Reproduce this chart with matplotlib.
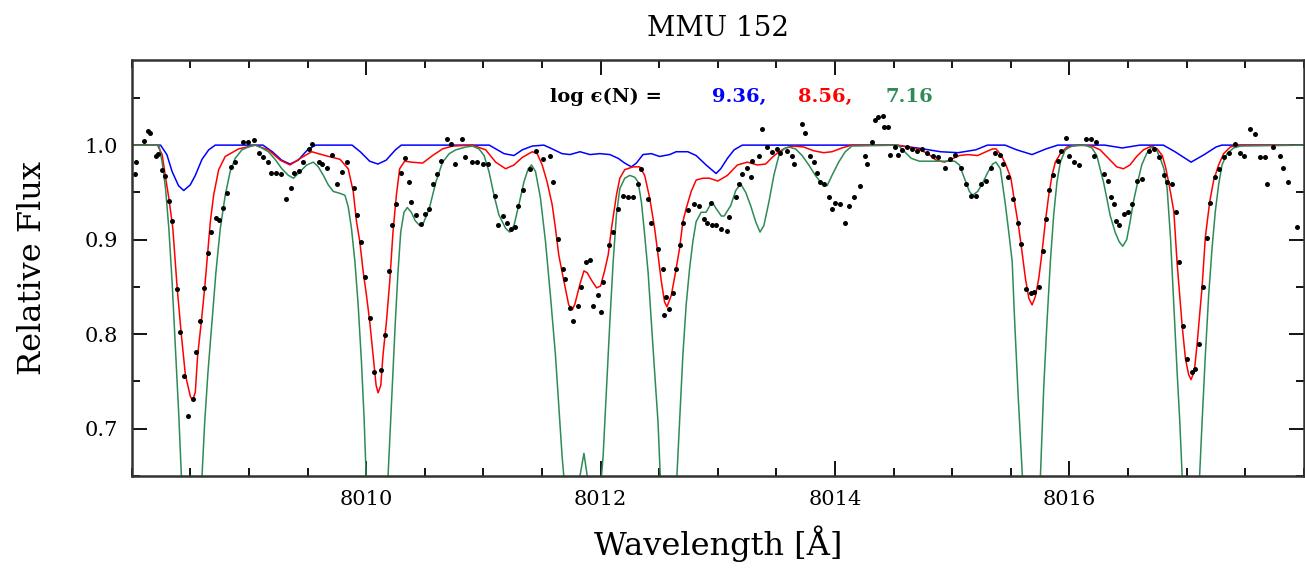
import numpy as np
import matplotlib
matplotlib.use("Agg")
import matplotlib.pyplot as plt
from matplotlib.ticker import MultipleLocator, FixedLocator

# model spectra (wavelength in Angstrom, relative flux)
blue_wave = [8008.0, 8008.246, 8008.30, 8008.345, 8008.40, 8008.444, 8008.50, 8008.543, 8008.60, 8008.657,
             8008.713, 8009.12, 8009.20, 8009.28, 8009.351, 8009.42, 8009.50, 8009.57, 8009.88, 8009.95,
             8010.03, 8010.10, 8010.17, 8010.25, 8010.30, 8011.05, 8011.176, 8011.261, 8011.332, 8011.417,
             8011.516, 8011.587, 8011.671, 8011.739, 8011.824, 8011.909, 8011.994, 8012.079, 8012.15, 8012.206,
             8012.263, 8012.305, 8012.362, 8012.433, 8012.504, 8012.589, 8012.645, 8012.744, 8012.815, 8012.90,
             8012.985, 8013.025, 8013.082, 8013.139, 8013.209, 8014.50, 8014.70, 8014.90, 8015.05, 8015.20,
             8015.30, 8015.45, 8015.55, 8015.68, 8015.80, 8015.90, 8016.30, 8016.45, 8016.60, 8016.80,
             8016.90, 8017.037, 8017.15, 8017.25, 8017.30, 8018.0]
blue_flux = [1.0, 1.0, 0.99, 0.972, 0.957, 0.952, 0.958, 0.968, 0.985, 0.995,
             1.0, 1.0, 0.993, 0.984, 0.980, 0.984, 0.995, 1.0, 1.0, 0.993,
             0.983, 0.980, 0.984, 0.995, 1.0, 1.0, 0.991, 0.989, 0.995, 0.999,
             1.0, 0.996, 0.991, 0.990, 0.993, 0.990, 0.991, 0.990, 0.986, 0.981,
             0.977, 0.981, 0.990, 0.991, 0.988, 0.990, 0.993, 0.993, 0.989, 0.979,
             0.970, 0.975, 0.986, 0.995, 1.0, 1.0, 0.997, 0.993, 0.992, 0.995,
             1.0, 1.0, 0.995, 0.990, 0.996, 1.0, 1.0, 0.997, 1.0, 1.0,
             0.993, 0.982, 0.990, 0.998, 1.0, 1.0]

red_wave = [8008.0, 8008.22, 8008.26, 8008.29, 8008.317, 8008.351, 8008.388, 8008.424, 8008.458, 8008.501,
            8008.521, 8008.543, 8008.563, 8008.594, 8008.623, 8008.648, 8008.671, 8008.699, 8008.742, 8008.798,
            8008.912, 8009.053, 8009.166, 8009.268, 8009.351, 8009.451, 8009.536, 8009.649, 8009.777, 8009.847,
            8009.89, 8009.918, 8009.946, 8009.975, 8010.003, 8010.031, 8010.059, 8010.085, 8010.102, 8010.125,
            8010.144, 8010.173, 8010.201, 8010.229, 8010.258, 8010.286, 8010.329, 8010.385, 8010.482, 8010.567,
            8010.652, 8010.737, 8010.907, 8011.02, 8011.105, 8011.19, 8011.261, 8011.332, 8011.417, 8011.459,
            8011.502, 8011.544, 8011.587, 8011.615, 8011.643, 8011.671, 8011.70, 8011.728, 8011.760, 8011.781,
            8011.824, 8011.858, 8011.886, 8011.923, 8011.966, 8012.0, 8012.036, 8012.065, 8012.093, 8012.135,
            8012.164, 8012.206, 8012.277, 8012.334, 8012.376, 8012.419, 8012.461, 8012.49, 8012.518, 8012.546,
            8012.566, 8012.603, 8012.64, 8012.674, 8012.702, 8012.73, 8012.773, 8012.815, 8012.872, 8012.928,
            8013.0, 8013.082, 8013.167, 8013.252, 8013.337, 8013.408, 8013.464, 8013.521, 8013.578, 8013.648,
            8013.733, 8013.818, 8013.903, 8013.974, 8014.059, 8014.144, 8014.537, 8014.622, 8014.707, 8014.792,
            8014.863, 8014.934, 8014.99, 8015.061, 8015.132, 8015.217, 8015.288, 8015.344, 8015.373, 8015.415,
            8015.458, 8015.50, 8015.539, 8015.568, 8015.596, 8015.624, 8015.653, 8015.681, 8015.709, 8015.738,
            8015.766, 8015.794, 8015.823, 8015.851, 8015.879, 8015.922, 8015.978, 8016.077, 8016.191, 8016.261,
            8016.332, 8016.403, 8016.46, 8016.516, 8016.573, 8016.63, 8016.70, 8016.748, 8016.791, 8016.819,
            8016.847, 8016.89, 8016.918, 8016.961, 8016.989, 8017.017, 8017.037, 8017.065, 8017.088, 8017.131,
            8017.159, 8017.196, 8017.23, 8017.272, 8017.315, 8017.371, 8017.428, 8018.0]
red_flux = [1.0, 1.0, 0.99, 0.965, 0.944, 0.912, 0.849, 0.799, 0.757, 0.734,
            0.730, 0.739, 0.778, 0.813, 0.849, 0.885, 0.919, 0.947, 0.974, 0.988,
            0.996, 1.0, 0.995, 0.984, 0.979, 0.987, 0.993, 0.989, 0.985, 0.975,
            0.951, 0.919, 0.898, 0.866, 0.841, 0.813, 0.778, 0.746, 0.738, 0.746,
            0.778, 0.813, 0.855, 0.908, 0.947, 0.975, 0.983, 0.982, 0.981, 0.989,
            0.996, 0.999, 1.0, 0.995, 0.982, 0.975, 0.979, 0.987, 0.993, 0.991,
            0.979, 0.961, 0.937, 0.912, 0.884, 0.866, 0.848, 0.831, 0.826, 0.832,
            0.853, 0.867, 0.865, 0.857, 0.849, 0.851, 0.868, 0.884, 0.912, 0.947,
            0.965, 0.974, 0.977, 0.977, 0.968, 0.944, 0.912, 0.884, 0.856, 0.834,
            0.829, 0.841, 0.866, 0.891, 0.919, 0.933, 0.951, 0.963, 0.965, 0.965,
            0.962, 0.968, 0.979, 0.982, 0.979, 0.980, 0.987, 0.993, 0.997, 0.999,
            0.998, 0.994, 0.992, 0.993, 0.997, 1.0, 1.0, 0.998, 0.996, 0.991,
            0.984, 0.982, 0.985, 0.989, 0.990, 0.989, 0.993, 0.996, 0.996, 0.990,
            0.979, 0.965, 0.934, 0.912, 0.886, 0.859, 0.838, 0.831, 0.840, 0.859,
            0.887, 0.919, 0.947, 0.968, 0.982, 0.991, 0.998, 1.0, 0.999, 0.995,
            0.986, 0.977, 0.975, 0.979, 0.988, 0.995, 0.999, 0.996, 0.989, 0.977,
            0.960, 0.930, 0.875, 0.809, 0.774, 0.757, 0.752, 0.761, 0.789, 0.850,
            0.903, 0.940, 0.963, 0.979, 0.991, 0.998, 1.0, 1.0]

green_wave = [8008.0, 8008.232, 8008.26, 8008.289, 8008.317, 8008.345, 8008.373, 8008.402, 8008.424, 8008.51,
              8008.60, 8008.623, 8008.651, 8008.685, 8008.719, 8008.756, 8008.798, 8008.84, 8008.883, 8008.94,
              8008.996, 8009.053, 8009.11, 8009.166, 8009.223, 8009.281, 8009.337, 8009.38, 8009.436, 8009.493,
              8009.55, 8009.592, 8009.635, 8009.677, 8009.72, 8009.776, 8009.819, 8009.847, 8009.875, 8009.904,
              8009.932, 8009.96, 8009.983, 8010.0, 8010.10, 8010.187, 8010.209, 8010.229, 8010.249, 8010.272,
              8010.295, 8010.323, 8010.351, 8010.385, 8010.419, 8010.456, 8010.49, 8010.539, 8010.595, 8010.652,
              8010.709, 8010.765, 8010.85, 8010.907, 8010.963, 8011.006, 8011.048, 8011.091, 8011.133, 8011.19,
              8011.224, 8011.261, 8011.303, 8011.346, 8011.383, 8011.411, 8011.445, 8011.487, 8011.53, 8011.572,
              8011.615, 8011.643, 8011.671, 8011.686, 8011.76, 8011.824, 8011.858, 8011.886, 8011.95, 8012.008,
              8012.022, 8012.05, 8012.079, 8012.107, 8012.135, 8012.164, 8012.206, 8012.249, 8012.291, 8012.32,
              8012.348, 8012.376, 8012.405, 8012.433, 8012.461, 8012.49, 8012.509, 8012.58, 8012.651, 8012.674,
              8012.702, 8012.73, 8012.759, 8012.787, 8012.815, 8012.858, 8012.90, 8012.951, 8012.985, 8013.03,
              8013.054, 8013.11, 8013.153, 8013.195, 8013.238, 8013.28, 8013.323, 8013.36, 8013.393, 8013.436,
              8013.478, 8013.521, 8013.563, 8013.606, 8013.663, 8013.719, 8013.776, 8013.832, 8013.889, 8013.932,
              8013.974, 8014.031, 8014.087, 8014.144, 8014.537, 8014.594, 8014.65, 8014.72, 8014.82, 8014.93,
              8015.02, 8015.061, 8015.104, 8015.146, 8015.174, 8015.217, 8015.259, 8015.302, 8015.344, 8015.373,
              8015.41, 8015.45, 8015.48, 8015.511, 8015.53, 8015.56, 8015.598, 8015.675, 8015.752, 8015.78,
              8015.808, 8015.837, 8015.865, 8015.893, 8015.922, 8015.964, 8016.021, 8016.134, 8016.191, 8016.233,
              8016.261, 8016.29, 8016.318, 8016.346, 8016.389, 8016.423, 8016.454, 8016.488, 8016.517, 8016.545,
              8016.582, 8016.616, 8016.658, 8016.70, 8016.743, 8016.786, 8016.805, 8016.833, 8016.862, 8016.89,
              8016.918, 8016.941, 8016.961, 8017.035, 8017.11, 8017.131, 8017.159, 8017.187, 8017.216, 8017.244,
              8017.272, 8017.301, 8017.343, 8017.40, 8017.457, 8018.0]
green_flux = [1.0, 1.0, 0.982, 0.954, 0.912, 0.855, 0.785, 0.714, 0.650, 0.55,
              0.650, 0.707, 0.760, 0.813, 0.866, 0.912, 0.947, 0.972, 0.986, 0.995,
              0.998, 1.0, 0.997, 0.993, 0.985, 0.975, 0.968, 0.965, 0.972, 0.979,
              0.982, 0.977, 0.968, 0.958, 0.951, 0.949, 0.947, 0.935, 0.912, 0.877,
              0.831, 0.771, 0.710, 0.650, 0.50, 0.650, 0.707, 0.760, 0.813, 0.866,
              0.908, 0.929, 0.934, 0.929, 0.920, 0.915, 0.918, 0.933, 0.961, 0.982,
              0.991, 0.995, 0.998, 0.999, 0.996, 0.989, 0.972, 0.947, 0.926, 0.912,
              0.908, 0.915, 0.937, 0.961, 0.975, 0.979, 0.972, 0.944, 0.898, 0.841,
              0.778, 0.725, 0.672, 0.650, 0.55, 0.650, 0.674, 0.650, 0.60, 0.650,
              0.672, 0.742, 0.813, 0.876, 0.926, 0.954, 0.965, 0.968, 0.966, 0.961,
              0.940, 0.905, 0.866, 0.813, 0.760, 0.707, 0.650, 0.50, 0.650, 0.707,
              0.778, 0.831, 0.869, 0.898, 0.919, 0.929, 0.929, 0.940, 0.933, 0.925,
              0.925, 0.936, 0.952, 0.959, 0.950, 0.936, 0.919, 0.908, 0.915, 0.940,
              0.968, 0.989, 0.996, 0.998, 0.996, 0.989, 0.979, 0.968, 0.959, 0.957,
              0.968, 0.982, 0.993, 0.999, 1.0, 0.993, 0.986, 0.983, 0.983, 0.983,
              0.983, 0.979, 0.965, 0.951, 0.947, 0.951, 0.960, 0.971, 0.980, 0.982,
              0.975, 0.940, 0.910, 0.877, 0.820, 0.740, 0.650, 0.45, 0.650, 0.743,
              0.813, 0.877, 0.926, 0.961, 0.982, 0.995, 0.999, 1.0, 0.997, 0.989,
              0.975, 0.961, 0.944, 0.926, 0.908, 0.898, 0.893, 0.900, 0.919, 0.940,
              0.961, 0.979, 0.991, 0.998, 0.995, 0.982, 0.975, 0.954, 0.901, 0.831,
              0.760, 0.707, 0.650, 0.45, 0.650, 0.707, 0.778, 0.841, 0.891, 0.930,
              0.958, 0.979, 0.991, 0.997, 0.999, 1.0]

# observed spectrum
obs_wave = [8008.026, 8008.041, 8008.104, 8008.139, 8008.160, 8008.204, 8008.226, 8008.260, 8008.283, 8008.317,
            8008.347, 8008.386, 8008.415, 8008.443, 8008.482, 8008.520, 8008.551, 8008.585, 8008.613, 8008.649,
            8008.678, 8008.720, 8008.743, 8008.782, 8008.811, 8008.848, 8008.884, 8008.946, 8008.989, 8009.046,
            8009.082, 8009.116, 8009.159, 8009.188, 8009.230, 8009.273, 8009.315, 8009.358, 8009.386, 8009.428,
            8009.465, 8009.513, 8009.541, 8009.598, 8009.626, 8009.669, 8009.711, 8009.754, 8009.790, 8009.839,
            8009.895, 8009.923, 8009.955, 8009.989, 8010.031, 8010.065, 8010.130, 8010.161, 8010.195, 8010.224,
            8010.255, 8010.295, 8010.328, 8010.362, 8010.385, 8010.428, 8010.464, 8010.499, 8010.533, 8010.567,
            8010.601, 8010.641, 8010.688, 8010.720, 8010.760, 8010.816, 8010.845, 8010.901, 8010.943, 8011.000,
            8011.042, 8011.099, 8011.127, 8011.170, 8011.198, 8011.240, 8011.269, 8011.297, 8011.340, 8011.397,
            8011.453, 8011.510, 8011.567, 8011.595, 8011.637, 8011.680, 8011.694, 8011.737, 8011.765, 8011.807,
            8011.835, 8011.878, 8011.907, 8011.935, 8011.977, 8012.000, 8012.020, 8012.076, 8012.104, 8012.147,
            8012.190, 8012.232, 8012.274, 8012.317, 8012.345, 8012.402, 8012.430, 8012.487, 8012.529, 8012.544,
            8012.557, 8012.586, 8012.614, 8012.642, 8012.680, 8012.699, 8012.742, 8012.799, 8012.841, 8012.884,
            8012.912, 8012.940, 8012.954, 8012.982, 8013.025, 8013.082, 8013.096, 8013.153, 8013.181, 8013.209,
            8013.252, 8013.280, 8013.294, 8013.351, 8013.379, 8013.422, 8013.465, 8013.506, 8013.534, 8013.591,
            8013.634, 8013.648, 8013.719, 8013.747, 8013.789, 8013.818, 8013.846, 8013.874, 8013.903, 8013.946,
            8013.974, 8014.002, 8014.044, 8014.087, 8014.116, 8014.158, 8014.214, 8014.257, 8014.271, 8014.314,
            8014.342, 8014.370, 8014.413, 8014.420, 8014.455, 8014.469, 8014.511, 8014.540, 8014.568, 8014.611,
            8014.653, 8014.696, 8014.738, 8014.781, 8014.838, 8014.880, 8014.936, 8014.979, 8015.021, 8015.078,
            8015.121, 8015.163, 8015.206, 8015.248, 8015.291, 8015.333, 8015.361, 8015.404, 8015.432, 8015.475,
            8015.517, 8015.560, 8015.588, 8015.630, 8015.673, 8015.700, 8015.738, 8015.772, 8015.800, 8015.828,
            8015.862, 8015.900, 8015.928, 8015.970, 8015.998, 8016.041, 8016.083, 8016.140, 8016.183, 8016.211,
            8016.225, 8016.296, 8016.325, 8016.353, 8016.381, 8016.395, 8016.424, 8016.466, 8016.503, 8016.537,
            8016.579, 8016.622, 8016.678, 8016.721, 8016.763, 8016.806, 8016.834, 8016.877, 8016.905, 8016.933,
            8016.967, 8017.004, 8017.046, 8017.069, 8017.103, 8017.137, 8017.174, 8017.202, 8017.245, 8017.273,
            8017.315, 8017.358, 8017.415, 8017.457, 8017.485, 8017.542, 8017.585, 8017.627, 8017.669, 8017.684,
            8017.740, 8017.797, 8017.825, 8017.867, 8017.939]
obs_flux = [0.969, 0.982, 1.004, 1.015, 1.013, 0.989, 0.991, 0.974, 0.967, 0.941,
            0.920, 0.848, 0.802, 0.756, 0.714, 0.731, 0.781, 0.814, 0.849, 0.886,
            0.908, 0.923, 0.921, 0.934, 0.949, 0.977, 0.982, 1.003, 1.003, 1.005,
            0.992, 0.987, 0.982, 0.971, 0.971, 0.969, 0.943, 0.955, 0.971, 0.973,
            0.982, 0.996, 1.001, 0.982, 0.980, 0.976, 0.990, 0.959, 0.972, 0.982,
            0.955, 0.926, 0.898, 0.861, 0.817, 0.760, 0.762, 0.799, 0.867, 0.915,
            0.938, 0.970, 0.986, 0.961, 0.940, 0.926, 0.917, 0.927, 0.932, 0.959,
            0.969, 0.983, 1.006, 1.001, 0.980, 1.006, 0.987, 0.982, 0.982, 0.980,
            0.980, 0.946, 0.915, 0.925, 0.918, 0.911, 0.913, 0.936, 0.953, 0.975,
            0.994, 0.985, 0.989, 0.961, 0.901, 0.869, 0.858, 0.828, 0.814, 0.830,
            0.850, 0.876, 0.878, 0.830, 0.841, 0.823, 0.855, 0.894, 0.908, 0.932,
            0.946, 0.945, 0.945, 0.959, 0.975, 0.943, 0.918, 0.890, 0.869, 0.820,
            0.839, 0.827, 0.844, 0.869, 0.894, 0.918, 0.931, 0.938, 0.936, 0.922,
            0.918, 0.939, 0.916, 0.915, 0.911, 0.909, 0.924, 0.945, 0.959, 0.969,
            0.976, 0.966, 0.983, 0.989, 1.017, 0.998, 0.993, 0.996, 0.992, 0.994,
            0.989, 0.980, 1.022, 1.013, 0.989, 0.982, 0.971, 0.961, 0.959, 0.945,
            0.932, 0.939, 0.938, 0.918, 0.936, 0.945, 0.957, 0.989, 0.980, 1.003,
            1.027, 1.030, 1.031, 1.019, 1.019, 0.990, 0.998, 0.990, 0.995, 0.998,
            0.996, 0.994, 0.996, 0.992, 0.989, 0.987, 0.976, 0.985, 0.990, 0.976,
            0.959, 0.946, 0.946, 0.959, 0.962, 0.976, 0.992, 0.990, 0.980, 0.966,
            0.943, 0.918, 0.895, 0.848, 0.844, 0.845, 0.850, 0.888, 0.922, 0.953,
            0.968, 0.983, 0.994, 1.008, 0.989, 0.982, 0.979, 1.007, 1.007, 0.989,
            1.003, 0.969, 0.962, 0.945, 0.938, 0.920, 0.915, 0.927, 0.929, 0.938,
            0.962, 0.964, 0.994, 0.996, 0.987, 0.968, 0.961, 0.959, 0.929, 0.876,
            0.809, 0.774, 0.760, 0.763, 0.790, 0.850, 0.902, 0.939, 0.966, 0.975,
            0.987, 0.992, 1.001, 0.992, 0.989, 1.017, 1.012, 0.987, 0.987, 0.959,
            0.998, 0.989, 0.976, 0.961, 0.913]

abundances = ["9.36,", "8.56,", "7.16"]
model_colors = ["#0000ff", "#ff0000", "#2e8b57"]
x_labels = [8010, 8012, 8014, 8016]

plt.rcParams['font.family'] = ['DejaVu Serif']

fig = plt.figure(figsize=(13.05, 5.69), dpi=100)
ax = fig.add_axes([0.1009, 0.1634, 0.8983, 0.7311])

ax.plot(blue_wave, blue_flux, color=model_colors[0], lw=1.1)
ax.plot(red_wave, red_flux, color=model_colors[1], lw=1.1)
ax.plot(green_wave, green_flux, color=model_colors[2], lw=1.1)
ax.plot(obs_wave, obs_flux, 'o', color='black', ms=3.6, mew=0)

ax.set_xlim(8008, 8018)
ax.set_ylim(0.65, 1.09)

ax.xaxis.set_major_locator(FixedLocator(x_labels))
ax.xaxis.set_minor_locator(MultipleLocator(0.5))
ax.yaxis.set_major_locator(MultipleLocator(0.1))
ax.yaxis.set_minor_locator(MultipleLocator(0.05))
ax.tick_params(which='both', direction='in', top=True, right=True, width=1.3, labelsize=15)
ax.tick_params(which='major', length=11, pad=10)
ax.tick_params(which='minor', length=6)
for s in ax.spines.values():
    s.set_linewidth(1.8)
    s.set_color('#333333')

ax.set_title('MMU 152', fontsize=20, pad=17)
ax.set_xlabel('Wavelength [Å]', fontsize=23, labelpad=12)
ax.set_ylabel('Relative Flux', fontsize=23, labelpad=26)

ax.text(0.357, 0.911, 'log ϵ(N) =', transform=ax.transAxes, fontsize=14,
        fontweight='bold', va='center', ha='left')
xs = [0.495, 0.568, 0.643]
for lbl, c, xp in zip(abundances, model_colors, xs):
    ax.text(xp, 0.911, lbl, transform=ax.transAxes, fontsize=14, fontweight='bold',
            color=c, va='center', ha='left')

fig.savefig('out.png', dpi=100)
